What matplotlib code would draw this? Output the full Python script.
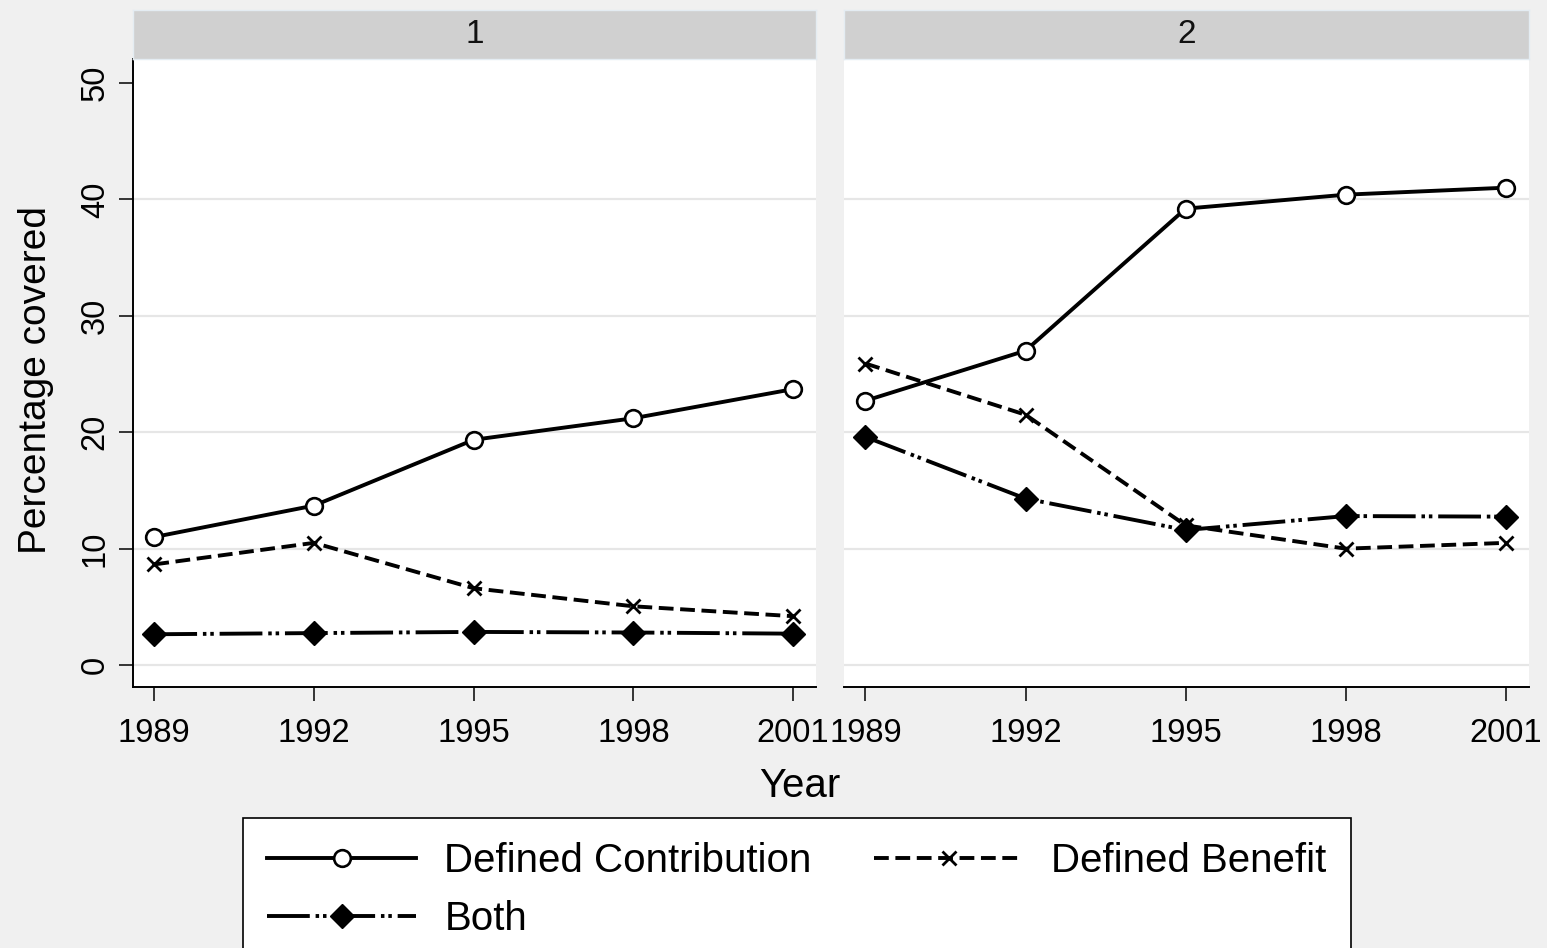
import matplotlib.pyplot as plt
import numpy as np

plt.rcParams['font.family'] = ['Liberation Sans', 'DejaVu Sans']

years = [1989, 1992, 1995, 1998, 2001]
panels = ['1', '2']

# percentage covered, one list per plan type and panel
dc_1 = [11.0, 13.7, 19.35, 21.2, 23.7]
db_1 = [8.65, 10.5, 6.6, 5.05, 4.2]
both_1 = [2.65, 2.75, 2.85, 2.8, 2.7]

dc_2 = [22.7, 27.0, 39.2, 40.4, 41.0]
db_2 = [25.9, 21.5, 12.0, 10.0, 10.5]
both_2 = [19.6, 14.3, 11.6, 12.8, 12.75]

series_names = ['Defined Contribution', 'Defined Benefit', 'Both']
yticks = [0, 10, 20, 30, 40, 50]

W, H = 1547, 948
bg = '#f0f0f0'
fig = plt.figure(figsize=(W / 100, H / 100), dpi=100, facecolor=bg)


def frac_box(x0, y0, x1, y1):
    # pixel box (top-left origin) -> figure fraction rect
    return [x0 / W, 1 - y1 / H, (x1 - x0) / W, (y1 - y0) / H]


lw = 2.8
styles = {
    'Defined Contribution': dict(color='black', lw=lw, ls='-', marker='o', ms=12,
                                 mfc='white', mec='black', mew=1.9),
    'Defined Benefit': dict(color='black', lw=lw, ls=(0, (3.8, 1.7)), marker='x', ms=10,
                            mec='black', mew=2.0),
    'Both': dict(color='black', lw=lw, ls=(0, (11, 1.5, 0.9, 1.0, 0.9, 1.5)),
                 marker='D', ms=12, mfc='black', mec='black'),
}

boxes = [(133, 59, 816, 687), (844, 59, 1529, 687)]
data = [(dc_1, db_1, both_1), (dc_2, db_2, both_2)]
handles = {}

for i, (box, vals) in enumerate(zip(boxes, data)):
    ax = fig.add_axes(frac_box(*box))
    ax.set_facecolor('white')
    for name, v in zip(series_names, vals):
        h, = ax.plot(years, v, label=name, **styles[name])
        handles[name] = h
    ax.set_xlim(1988.6, 2001.43)
    ax.set_ylim(-1.88, 52.05)
    ax.set_xticks(years)
    ax.set_yticks(yticks)
    for g in yticks[:-1]:
        ax.axhline(g, color='#e6e6e6', lw=1.6, zorder=0)
    for s in ['top', 'right']:
        ax.spines[s].set_visible(False)
    ax.spines['bottom'].set_linewidth(1.4)
    ax.tick_params(axis='x', length=10, width=1.1, pad=12, labelsize=23.5)
    if i == 0:
        ax.spines['left'].set_linewidth(1.4)
        ax.tick_params(axis='y', length=10, width=1.1, pad=6, labelsize=23.5)
        for lab in ax.get_yticklabels():
            lab.set_rotation(90)
            lab.set_va('center')
    else:
        ax.spines['left'].set_visible(False)
        ax.tick_params(axis='y', left=False, labelleft=False)

    # panel header strip
    hx = fig.add_axes(frac_box(box[0], 10, box[2], 59))
    hx.set_facecolor('#d0d0d0')
    hx.set_xticks([])
    hx.set_yticks([])
    for s in hx.spines.values():
        s.set_color('#e4ecf2')
        s.set_linewidth(1)
    hx.text(0.5, 0.5, panels[i], ha='center', va='center', fontsize=24,
            color='#111111', transform=hx.transAxes)

fig.text(800 / W, 1 - 797 / H, 'Year', ha='center', va='baseline', fontsize=29)
fig.text(36 / W, 1 - 380 / H, 'Percentage covered', rotation=90,
         ha='center', va='center', fontsize=28)

order = ['Defined Contribution', 'Both', 'Defined Benefit']
leg = fig.legend([handles[n] for n in order], order, ncol=2,
                 loc='upper left', bbox_to_anchor=(243 / W, 1 - 818 / H),
                 fontsize=29, frameon=True, fancybox=False, framealpha=1,
                 edgecolor='black', facecolor='white', handlelength=3.7,
                 handletextpad=0.7, columnspacing=1.55, labelspacing=0.5,
                 borderpad=0.6, borderaxespad=0)
leg.get_frame().set_linewidth(1.2)

fig.savefig('out.png', dpi=100, facecolor=bg)
